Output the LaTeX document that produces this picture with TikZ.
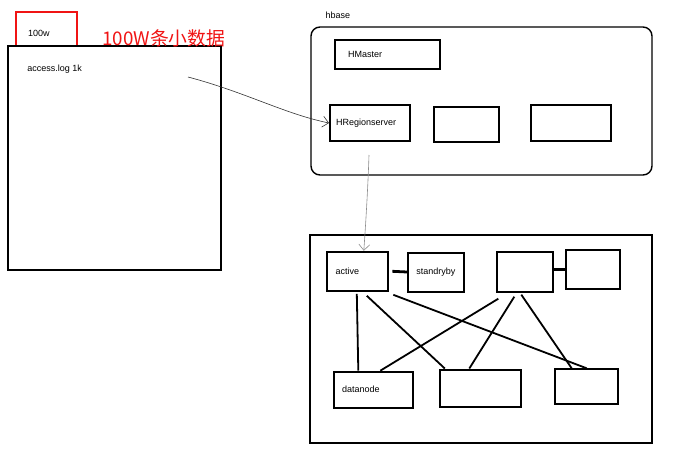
\documentclass[tikz,border=0pt]{standalone}
\usepackage{fontspec}
\setmainfont{Liberation Sans}
\newfontfamily\cjk{Noto Sans CJK SC}
\usetikzlibrary{calc,arrows.meta}
\definecolor{markred}{RGB}{240,20,20}
\tikzset{
   box/.style={draw, line width=2pt, inner sep=0pt},
   txt/.style={anchor=west, inner sep=0pt, font=\fontsize{9}{10}\selectfont},
   link/.style={line width=1.8pt},
   scribble/.style={line width=0.6pt, -{Straight Barb[length=6pt,width=11pt]}},
}

\begin{document}
\begin{tikzpicture}[x=1pt,y=-1pt]
   \useasboundingbox (0,0) rectangle (700,461);
   \node[box, draw=markred, line width=2.2pt, minimum width=61pt, minimum height=34pt] (redbox) at (46.5,29) {};
   \node[box, line width=1.6pt, minimum width=213pt, minimum height=224pt] (logbox) at (114.5,158) {};
   \node[txt] at ([xshift=13pt,yshift=-4pt]redbox.west) {100w};
   \node[anchor=west, inner sep=0pt, text=markred, font=\cjk\fontsize{18.8}{19}\selectfont] (note) at (102,38.5) {100W条小数据};
   \node[txt] at ($(logbox.north west)+(20,24)$) {access.log 1k};
   \coordinate (logpt) at (188,77);

   \node[box, line width=1.4pt, rounded corners=9pt, minimum width=341pt, minimum height=148pt] (hbase) at (481.5,101) {};
   \node[txt] at ($(hbase.north west)+(15,-11)$) {hbase};
   \node[box, minimum width=105pt, minimum height=29pt] (hmaster) at (387.5,54.5) {};
   \node[txt] at ([xshift=14pt]hmaster.west) {HMaster};
   \node[box, minimum width=80pt, minimum height=36pt] (hrs) at (370,123) {};
   \node[txt] at ([xshift=7pt]hrs.west) {HRegionserver};
   \node[box, minimum width=65pt, minimum height=35pt] (rs2) at (466.5,124.5) {};
   \node[box, minimum width=80pt, minimum height=36pt] (rs3) at (571,123) {};
   \coordinate (rsdown) at (369,155);

   \node[box, line width=2.8pt, minimum width=342pt, minimum height=208pt] (hdfs) at (481,339) {};
   \node[box, minimum width=61pt, minimum height=39pt] (active) at (357.8,271.3) {};
   \node[txt] at ([xshift=9pt]active.west) {active};
   \node[box, minimum width=56pt, minimum height=39pt] (standby) at (436.2,272) {};
   \node[txt] at ([xshift=9pt]standby.west) {standryby};
   \node[box, minimum width=56pt, minimum height=40pt] (nn2) at (525.3,271.7) {};
   \node[box, minimum width=54pt, minimum height=39pt] (nn2b) at (592.8,269.7) {};
   \node[box, minimum width=79pt, minimum height=36pt] (datanode) at (373.3,389.7) {};
   \node[txt] at ([xshift=9pt]datanode.west) {datanode};
   \node[box, minimum width=81pt, minimum height=37pt] (dn2) at (480.3,388) {};
   \node[box, minimum width=63pt, minimum height=35pt] (dn3) at (586.7,386.8) {};

   \draw[scribble, black!80] (logpt) .. controls (245,92) and (285,114) .. (hrs.west);
   \draw[scribble, black!45] (rsdown) .. controls (368,185) and (366,220) .. ([xshift=6pt]active.north);

   \draw[line width=2.8pt] ([xshift=3pt]active.east) -- (standby.west);
   \draw[line width=2.8pt] (nn2.east |- nn2b.west) -- (nn2b.west);
   \draw[link] ([xshift=-1pt,yshift=-2pt]active.south) -- ([xshift=-15pt]datanode.north);
   \draw[link] ([xshift=9pt,yshift=-4pt]active.south) -- ([xshift=6pt]dn2.north west);
   \draw[link] ([xshift=4pt,yshift=-3pt]active.south east) -- (dn3.north);
   \draw[link] ([xshift=2pt,yshift=-6pt]nn2.south west) -- ([xshift=7pt]datanode.north);
   \draw[link] ([xshift=-11pt,yshift=-4pt]nn2.south) -- ([xshift=-11pt]dn2.north);
   \draw[link] ([xshift=-4pt,yshift=-2pt]nn2.south) -- ([xshift=-15pt]dn3.north);
\end{tikzpicture}
\end{document}
